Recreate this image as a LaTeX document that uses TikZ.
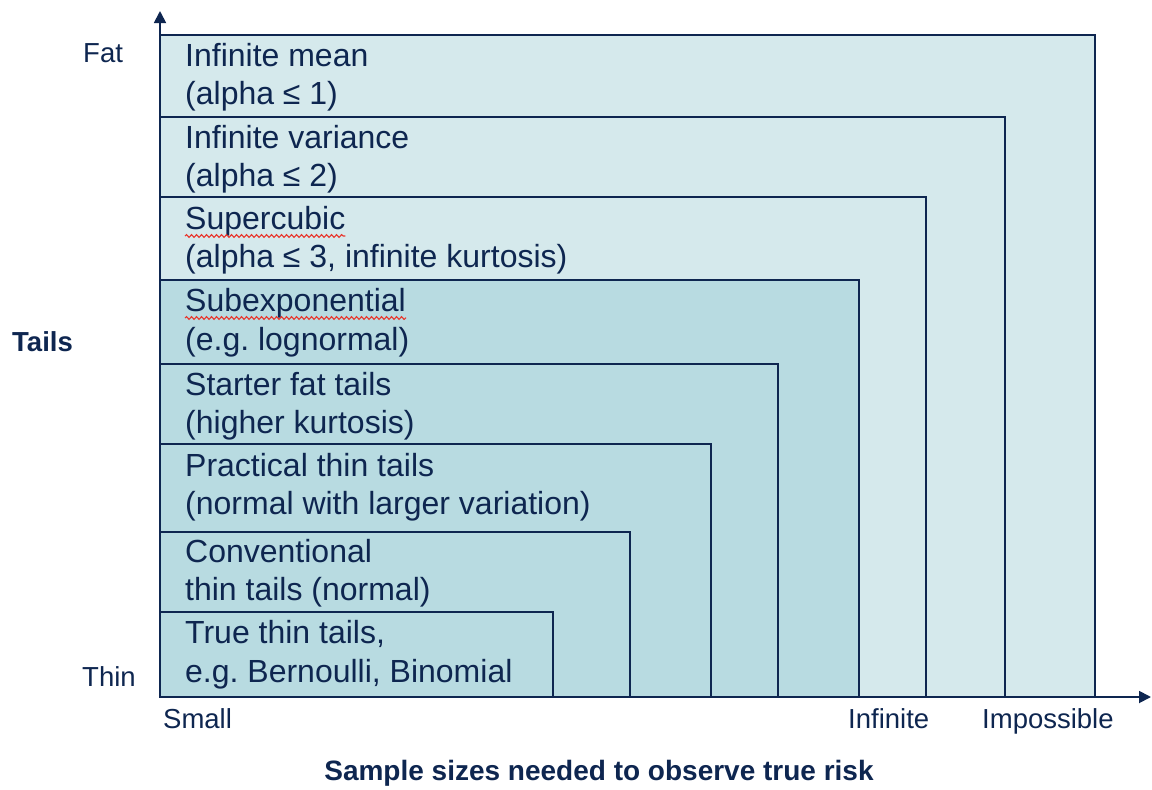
\documentclass[tikz,border=0pt]{standalone}
\usepackage{fontspec}
\setmainfont{Liberation Sans}
\usetikzlibrary{arrows.meta,decorations.pathmorphing}
\definecolor{navy}{HTML}{0E2650}
\definecolor{lightfill}{HTML}{D5E9EC}
\definecolor{darkfill}{HTML}{B8DBE1}
\definecolor{squig}{HTML}{E8352B}
\frenchspacing
\tikzset{
  box/.style={draw=navy,line width=1.8pt},
  lbl/.style={anchor=base west,inner sep=0pt,text=navy,font=\frenchspacing\fontsize{32}{38}\selectfont},
  axlbl/.style={anchor=base west,inner sep=0pt,text=navy,font=\fontsize{27.5}{32}\selectfont},
  axis/.style={draw=navy,line width=1.8pt,-{Triangle[length=12pt,width=12pt]}},
  wavy/.style={draw=squig,line width=1.1pt,decorate,decoration={snake,amplitude=1.4pt,segment length=5pt}}
}
\begin{document}
\begin{tikzpicture}[x=1pt,y=-1pt]
\useasboundingbox (0,0) rectangle (1152,790);
% boxes
\draw[box,fill=lightfill] (160,697) rectangle (1095,35);
\draw[box,fill=lightfill] (160,697) rectangle (1005,117);
\draw[box,fill=lightfill] (160,697) rectangle (926,197);
\draw[box,fill=darkfill] (160,697) rectangle (859,280);
\draw[box,fill=darkfill] (160,697) rectangle (778,364);
\draw[box,fill=darkfill] (160,697) rectangle (711,444);
\draw[box,fill=darkfill] (160,697) rectangle (630,532);
\draw[box,fill=darkfill] (160,697) rectangle (553,612);
% box labels
\node[lbl] (b1a) at (185,66) {Infinite mean};
\node[lbl] (b1b) at (185,104) {(alpha ≤ 1)};
\node[lbl] (b2a) at (185,148) {Infinite variance};
\node[lbl] (b2b) at (185,186) {(alpha ≤ 2)};
\node[lbl] (b3a) at (185,229) {Supercubic};
\node[lbl] (b3b) at (185,267) {(alpha ≤ 3, infinite kurtosis)};
\node[lbl] (b4a) at (185,311) {Subexponential};
\node[lbl] (b4b) at (185,350) {(e.g. lognormal)};
\node[lbl] (b5a) at (185,395) {Starter fat tails};
\node[lbl] (b5b) at (185,433) {(higher kurtosis)};
\node[lbl] (b6a) at (185,476) {Practical thin tails};
\node[lbl] (b6b) at (185,514) {(normal with larger variation)};
\node[lbl] (b7a) at (185,562) {Conventional};
\node[lbl] (b7b) at (185,600) {thin tails (normal)};
\node[lbl] (b8a) at (185,643) {True thin tails,};
\node[lbl] (b8b) at (185,682) {e.g. Bernoulli, Binomial};
% spell-check squiggles
\draw[wavy] ([yshift=-7pt]b3a.base west) -- ([yshift=-7pt]b3a.base east);
\draw[wavy] ([yshift=-7pt]b4a.base west) -- ([yshift=-7pt]b4a.base east);
% axes
\coordinate (o) at (160,697);
\coordinate (ytip) at (160,11);
\coordinate (xtip) at (1151,697);
\draw[axis] (o) -- (ytip);
\draw[axis] (o) -- (xtip);
% axis labels
\node[axlbl] (fat) at (83,62) {Fat};
\node[axlbl] (thin) at (82,686) {Thin};
\node[axlbl,font=\fontsize{27.5}{32}\selectfont\bfseries] (tails) at (12,351) {Tails};
\node[axlbl] (small) at (163,728) {Small};
\node[axlbl] (infinite) at (848,728) {Infinite};
\node[axlbl] (impossible) at (982,728) {Impossible};
\node[anchor=base,inner sep=0pt,text=navy,font=\fontsize{28}{32}\selectfont\bfseries] (title) at (599,780) {Sample sizes needed to observe true risk};
\end{tikzpicture}
\end{document}
